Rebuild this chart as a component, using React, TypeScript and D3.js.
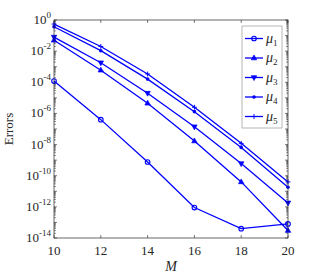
import React from 'react';
import * as d3 from 'd3';

// order of the basis (x axis)
const orders = [10, 12, 14, 16, 18, 20];

// errors for each mu
const mu1 = [1.2e-4, 4e-7, 7.6e-10, 9e-13, 4e-14, 8e-14];
const mu2 = [5e-2, 6e-4, 4.5e-6, 1.7e-8, 4e-11, 3e-14];
const mu3 = [8e-2, 1.8e-3, 2e-5, 1.4e-7, 6e-10, 1.8e-12];
const mu4 = [0.37, 1.07e-2, 1.6e-4, 1.3e-6, 6.6e-9, 1.8e-11];
const mu5 = [0.55, 2e-2, 3.4e-4, 2.5e-6, 1.2e-8, 4e-11];

const seriesNames = ['1', '2', '3', '4', '5'];
const seriesValues = [mu1, mu2, mu3, mu4, mu5];
const markerTypes = ['circle', 'triUp', 'triDown', 'dot', 'plus'];

const xTicks = [10, 12, 14, 16, 18, 20];
const yTickExps = [0, -2, -4, -6, -8, -10, -12, -14];

const BLUE = '#0000ff';
const AXIS = '#262626';
const FONT = "'Liberation Serif', 'Times New Roman', serif";

const Marker = ({ type, x, y }: { type: string; x: number; y: number }) => {
  if (type === 'circle')
    return <circle cx={x} cy={y} r={2.3} fill="none" stroke={BLUE} strokeWidth={1.1} />;
  if (type === 'triUp')
    return <path d={`M${x},${y - 3}L${x + 2.7},${y + 1.8}L${x - 2.7},${y + 1.8}Z`} fill={BLUE} stroke={BLUE} strokeWidth={0.7} />;
  if (type === 'triDown')
    return <path d={`M${x},${y + 3}L${x + 2.7},${y - 1.8}L${x - 2.7},${y - 1.8}Z`} fill={BLUE} stroke={BLUE} strokeWidth={0.7} />;
  if (type === 'dot') return <circle cx={x} cy={y} r={1.8} fill={BLUE} />;
  return (
    <path d={`M${x - 2.4},${y}H${x + 2.4}M${x},${y - 2.4}V${y + 2.4}`} stroke={BLUE} strokeWidth={1} />
  );
};

export default function App() {
  const width = 319;
  const height = 277;
  const margin = { top: 20, right: 31, bottom: 39, left: 54 };

  const x = d3.scaleLinear().domain([10, 20]).range([margin.left, width - margin.right]);
  const y = d3.scaleLog().domain([1e-14, 1]).range([height - margin.bottom, margin.top]);

  const line = d3
    .line<number>()
    .x((_, i) => x(orders[i]))
    .y((d) => y(d));

  const x0 = x.range()[0];
  const x1 = x.range()[1];
  const yTop = y.range()[1];
  const yBot = y.range()[0];

  // minor ticks on the log axis
  const minor: number[] = [];
  for (let e = -14; e < 0; e++) {
    for (let k = 2; k <= 9; k++) minor.push(k * Math.pow(10, e));
  }
  const decades = d3.range(-14, 1);

  const legX = 242;
  const legY = 26;
  const legW = 40;
  const legH = 102;
  const legStep = 19.5;

  return (
    <svg width={width} height={height} style={{ position: 'absolute', left: 0, top: 0, background: '#fff' }}>
      <rect x={0} y={0} width={width} height={height} fill="#fff" />

      {/* ticks */}
      <g stroke={AXIS} strokeWidth={0.6}>
        {xTicks.map((t) => (
          <g key={t}>
            <line x1={x(t)} x2={x(t)} y1={yBot} y2={yBot - 3} />
            <line x1={x(t)} x2={x(t)} y1={yTop} y2={yTop + 3} />
          </g>
        ))}
        {decades.map((e) => (
          <g key={e}>
            <line x1={x0} x2={x0 + 3} y1={y(Math.pow(10, e))} y2={y(Math.pow(10, e))} />
            <line x1={x1} x2={x1 - 3} y1={y(Math.pow(10, e))} y2={y(Math.pow(10, e))} />
          </g>
        ))}
        {minor.map((v, i) => (
          <g key={i}>
            <line x1={x0} x2={x0 + 1.8} y1={y(v)} y2={y(v)} />
            <line x1={x1} x2={x1 - 1.8} y1={y(v)} y2={y(v)} />
          </g>
        ))}
      </g>

      {/* series */}
      {seriesValues.map((vals, s) => (
        <g key={s}>
          <path d={line(vals) || ''} fill="none" stroke={BLUE} strokeWidth={1.3} />
          {vals.map((v, i) => (
            <Marker key={i} type={markerTypes[s]} x={x(orders[i])} y={y(v)} />
          ))}
        </g>
      ))}

      {/* axes box */}
      <rect x={x0} y={yTop} width={x1 - x0} height={yBot - yTop} fill="none" stroke={AXIS} strokeWidth={0.7} />

      {/* tick labels */}
      <g style={{ fontFamily: FONT }} fill={AXIS}>
        {xTicks.map((t) => (
          <text key={t} x={x(t)} y={yBot + 17} fontSize={13} textAnchor="middle">
            {t}
          </text>
        ))}
        {yTickExps.map((e) => (
          <text key={e} x={x0 - 3} y={y(Math.pow(10, e)) + 4} fontSize={13} textAnchor="end">
            10
            <tspan dy={-6} fontSize={9}>
              {e}
            </tspan>
          </text>
        ))}
        <text x={x((10 + 20) / 2)} y={271} fontSize={14} fontStyle="italic" textAnchor="middle">
          M
        </text>
        <text transform={`translate(13,${(yTop + yBot) / 2}) rotate(-90)`} fontSize={13} textAnchor="middle">
          Errors
        </text>
      </g>

      {/* legend */}
      <rect x={legX} y={legY} width={legW} height={legH} fill="#fff" stroke="#999" strokeWidth={0.7} />
      {seriesNames.map((n, s) => {
        const ly = legY + 12.5 + s * legStep;
        return (
          <g key={n}>
            <line x1={legX + 3} x2={legX + 21} y1={ly} y2={ly} stroke={BLUE} strokeWidth={1.3} />
            <Marker type={markerTypes[s]} x={legX + 12} y={ly} />
            <text x={legX + 24} y={ly + 4} style={{ fontFamily: FONT }} fontStyle="italic" fontSize={14} fill={AXIS}>
              μ
              <tspan dy={3} fontSize={9} fontStyle="normal">
                {n}
              </tspan>
            </text>
          </g>
        );
      })}
    </svg>
  );
}
